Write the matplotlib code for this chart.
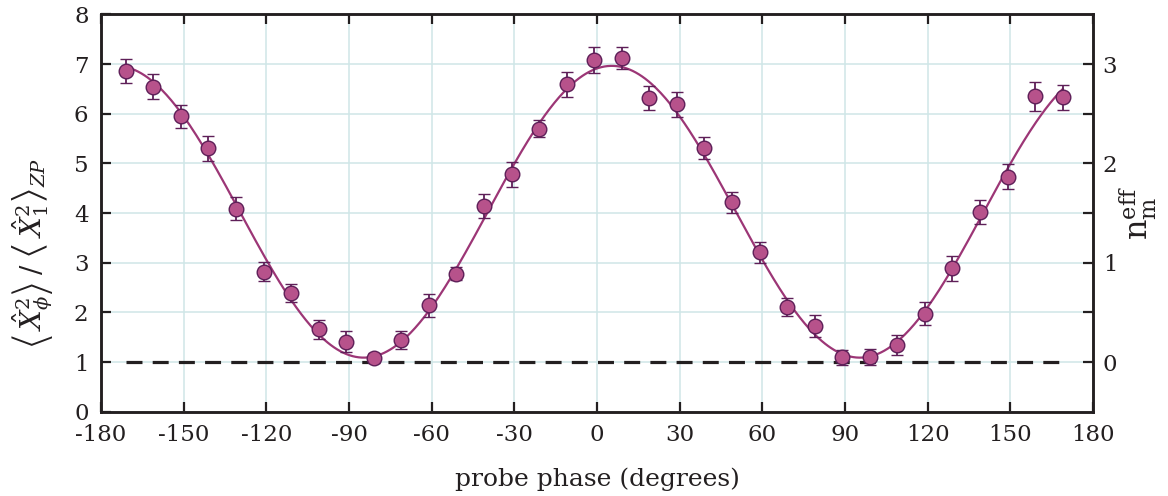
import numpy as np
import matplotlib
matplotlib.use("Agg")
import matplotlib.pyplot as plt
from matplotlib.ticker import MultipleLocator, FixedLocator, FuncFormatter

# Measured quadrature variance vs. probe phase
phase_deg = [-171, -161, -151, -141, -131, -121, -111, -101, -91, -81,
             -71, -61, -51, -41, -31, -21, -11, -1, 9, 19,
             29, 39, 49, 59, 69, 79, 89, 99, 109, 119,
             129, 139, 149, 159, 169]
variance = [6.86, 6.54, 5.95, 5.30, 4.09, 2.82, 2.39, 1.66, 1.41, 1.09,
            1.45, 2.14, 2.78, 4.14, 4.78, 5.70, 6.59, 7.08, 7.13, 6.31,
            6.19, 5.31, 4.22, 3.21, 2.11, 1.72, 1.10, 1.10, 1.35, 1.97,
            2.89, 4.02, 4.73, 6.35, 6.33]
variance_err = [0.25, 0.25, 0.23, 0.25, 0.23, 0.19, 0.19, 0.19, 0.21, 0.10,
                0.18, 0.23, 0.13, 0.25, 0.25, 0.17, 0.25, 0.27, 0.22, 0.24,
                0.25, 0.23, 0.21, 0.21, 0.18, 0.22, 0.15, 0.17, 0.20, 0.23,
                0.25, 0.24, 0.25, 0.29, 0.25]

x_ticks = [-180, -150, -120, -90, -60, -30, 0, 30, 60, 90, 120, 150, 180]
zero_point_level = 1.0

plt.rcParams['font.family'] = ['DejaVu Serif']
plt.rcParams['mathtext.fontset'] = 'dejavuserif'
plt.rcParams['axes.unicode_minus'] = False

ink = '#231f20'
grid_col = '#cfe6e7'
fill_col = '#b7528b'
edge_col = '#5e1f58'
fit_col = '#9c3676'

fig = plt.figure(figsize=(11.68, 4.96), dpi=100)
ax = fig.add_axes([0.0865, 0.170, 0.8493, 0.801])

x = np.asarray(phase_deg, dtype=float)
y = np.asarray(variance, dtype=float)
e = np.asarray(variance_err, dtype=float)

# Weighted least-squares fit of y = c0 + c1 cos(2phi) + c2 sin(2phi)
phi = np.deg2rad(x)
A = np.column_stack([np.ones_like(phi), np.cos(2 * phi), np.sin(2 * phi)])
coef, *_ = np.linalg.lstsq(A / e[:, None], y / e, rcond=None)
xf = np.linspace(x.min(), x.max(), 600)
pf = np.deg2rad(xf)
yf = coef[0] + coef[1] * np.cos(2 * pf) + coef[2] * np.sin(2 * pf)

ax.hlines(zero_point_level, x.min(), x.max(), colors=ink, linestyles=(0, (5, 3.2)),
          linewidth=2.3, zorder=2)
ax.plot(xf, yf, color=fit_col, linewidth=1.6, zorder=3)
ax.errorbar(x, y, yerr=e, fmt='o', markersize=10.5, markerfacecolor=fill_col,
            markeredgecolor=edge_col, markeredgewidth=1.0, ecolor=edge_col,
            elinewidth=1.3, capsize=4.5, capthick=1.6, zorder=4)

ax.set_xlim(-180, 180)
ax.set_ylim(0, 8)
ax.xaxis.set_major_locator(FixedLocator(x_ticks))
ax.yaxis.set_major_locator(MultipleLocator(1))
ax.grid(True, color=grid_col, linewidth=1.1, zorder=0)
ax.set_axisbelow(True)

for s in ax.spines.values():
    s.set_linewidth(1.8)
    s.set_color(ink)

ax.tick_params(axis='both', direction='in', length=7, width=1.6, colors=ink,
               labelsize=16.5, top=True, right=False)
ax.tick_params(axis='y', pad=9)
ax.tick_params(axis='x', pad=9)
ax.set_xlabel('probe phase (degrees)', fontsize=18, color=ink, labelpad=15)
ax.set_ylabel(r'$\left\langle\, \hat{X}_{\phi}^{2} \right\rangle \;/\; '
              r'\left\langle\, \hat{X}_{1}^{2} \right\rangle_{ZP}$',
              fontsize=20, color=ink)
ax.yaxis.set_label_coords(-0.045, 0.40)

# Right axis: effective occupation, n = (y - 1) / 2
ax2 = ax.twinx()
ax2.set_ylim((0 - 1) / 2, (8 - 1) / 2)
ax2.yaxis.set_major_locator(FixedLocator([0, 0.5, 1, 1.5, 2, 2.5, 3]))
ax2.yaxis.set_major_formatter(FuncFormatter(
    lambda v, p: f'{int(v)}' if abs(v - round(v)) < 1e-9 else ''))
ax2.tick_params(axis='y', direction='in', length=7, width=1.6, colors=ink,
                labelsize=16.5, pad=7)
for s in ax2.spines.values():
    s.set_linewidth(1.8)
    s.set_color(ink)
ax2.set_ylabel(r'$\mathrm{n}_{\mathrm{m}}^{\mathrm{eff}}$', fontsize=23,
               color=ink, labelpad=0)

fig.savefig('out.png', dpi=100)
